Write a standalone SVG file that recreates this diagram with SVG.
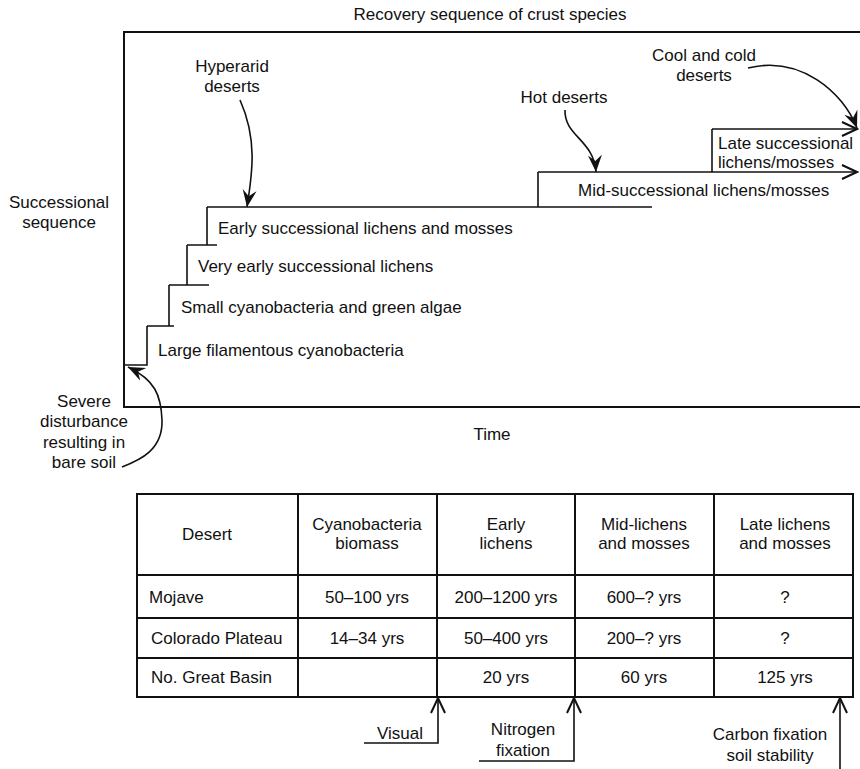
<svg xmlns="http://www.w3.org/2000/svg" width="860" height="769" viewBox="0 0 860 769">
<style>
text{font-family:"Liberation Sans",Arial,sans-serif;font-size:17px;fill:#111}
.c{text-anchor:middle}
.ln{stroke:#111;stroke-width:1.6;fill:none}
.fr{stroke:#111;stroke-width:2;fill:none}
.cv{stroke:#111;stroke-width:1.6;fill:none}
</style>
<defs>
<marker id="barb" viewBox="-17 -8 18 16" refX="0" refY="0" markerWidth="18" markerHeight="16" markerUnits="userSpaceOnUse" orient="auto">
<path d="M0,0 L-17,-7 L-11,0 L-17,7 Z" fill="#111"/>
</marker>
<marker id="open" viewBox="-16 -9 18 18" refX="0" refY="0" markerWidth="18" markerHeight="18" markerUnits="userSpaceOnUse" orient="auto">
<path d="M-15,-7 L0,0 L-15,7" fill="none" stroke="#111" stroke-width="2"/>
</marker>
</defs>
<rect width="860" height="769" fill="#fff"/>
<g id="frame">
<path class="fr" d="M860,32 L124,32 L124,407 L860,407"/>
<text class="c" x="490" y="20">Recovery sequence of crust species</text>
<text class="c" x="59" y="208">Successional</text>
<text class="c" x="59" y="228">sequence</text>
<text class="c" x="492" y="440">Time</text>
</g>
<g id="step-large">
<path class="ln" d="M124,365 L147,365 L147,326"/>
<text x="158" y="356">Large filamentous cyanobacteria</text>
</g>
<g id="step-small">
<path class="ln" d="M147,326 L174,326 M169,326 L169,285"/>
<text x="181" y="313">Small cyanobacteria and green algae</text>
</g>
<g id="step-very-early">
<path class="ln" d="M169,285 L209,285 M187,285 L187,245"/>
<text x="198" y="272">Very early successional lichens</text>
</g>
<g id="step-early">
<path class="ln" d="M187,245 L217,245 M207,245 L207,207"/>
<text x="218" y="234">Early successional lichens and mosses</text>
</g>
<g id="step-mid">
<path class="ln" d="M207,207 L652,207 M538,207 L538,172"/>
<text x="578" y="196">Mid-successional lichens/mosses</text>
</g>
<g id="step-late">
<path class="ln" d="M712,172 L712,129"/>
<text x="718" y="149">Late successional</text>
<text x="718" y="168">lichens/mosses</text>
</g>
<g id="label-hyperarid">
<text class="c" x="232" y="72">Hyperarid</text>
<text class="c" x="232" y="92">deserts</text>
</g>
<g id="label-hot">
<text class="c" x="564" y="103">Hot deserts</text>
</g>
<g id="label-cool">
<text class="c" x="704" y="61">Cool and cold</text>
<text class="c" x="704" y="81">deserts</text>
</g>
<g id="label-severe">
<text class="c" x="84" y="407">Severe</text>
<text class="c" x="84" y="427">disturbance</text>
<text class="c" x="84" y="448">resulting in</text>
<text class="c" x="84" y="468">bare soil</text>
</g>
<g id="table">
<rect class="fr" x="137" y="494" width="716" height="203"/>
<path class="fr" d="M137,575 L853,575 M137,618 L853,618 M137,658 L853,658 M298,494 L298,697 M437,494 L437,697 M575,494 L575,697 M714,494 L714,697"/>
<text class="c" x="207" y="540">Desert</text>
<text class="c" x="367" y="530">Cyanobacteria</text>
<text class="c" x="367" y="549">biomass</text>
<text class="c" x="506" y="530">Early</text>
<text class="c" x="506" y="549">lichens</text>
<text class="c" x="644" y="530">Mid-lichens</text>
<text class="c" x="644" y="549">and mosses</text>
<text class="c" x="785" y="530">Late lichens</text>
<text class="c" x="785" y="549">and mosses</text>
<text x="149" y="603">Mojave</text>
<text class="c" x="367" y="603">50–100 yrs</text>
<text class="c" x="506" y="603">200–1200 yrs</text>
<text class="c" x="644" y="603">600–? yrs</text>
<text class="c" x="785" y="603">?</text>
<text x="151" y="644">Colorado Plateau</text>
<text class="c" x="367" y="644">14–34 yrs</text>
<text class="c" x="506" y="644">50–400 yrs</text>
<text class="c" x="644" y="644">200–? yrs</text>
<text class="c" x="785" y="644">?</text>
<text x="151" y="683">No. Great Basin</text>
<text class="c" x="506" y="683">20 yrs</text>
<text class="c" x="644" y="683">60 yrs</text>
<text class="c" x="785" y="683">125 yrs</text>
</g>
<g id="label-visual"><text class="c" x="400" y="739">Visual</text></g>
<g id="label-nitrogen">
<text class="c" x="523" y="735">Nitrogen</text>
<text class="c" x="523" y="756">fixation</text>
</g>
<g id="label-carbon">
<text class="c" x="770" y="740">Carbon fixation</text>
<text class="c" x="770" y="761">soil stability</text>
</g>
<g id="connectors">
<path class="ln" d="M538,172 L857,172" marker-end="url(#open)"/>
<path class="ln" d="M712,129 L857,129" marker-end="url(#open)"/>
<path class="cv" d="M240,100 C258,140 252,175 247,207" marker-end="url(#barb)"/>
<path class="cv" d="M565,110 C564,136 594,140 596,172" marker-end="url(#barb)"/>
<path class="cv" d="M748,68 C800,55 843,92 857,128" marker-end="url(#barb)"/>
<path class="cv" d="M122,467 C140,460 163,450 162,420 C161,395 155,380 128,367" marker-end="url(#barb)"/>
<path class="ln" d="M364,743 L438,743 L438,698" marker-end="url(#open)"/>
<path class="ln" d="M479,761 L574,761 L574,698" marker-end="url(#open)"/>
<path class="ln" d="M840,769 L840,698" marker-end="url(#open)"/>
</g>
</svg>
